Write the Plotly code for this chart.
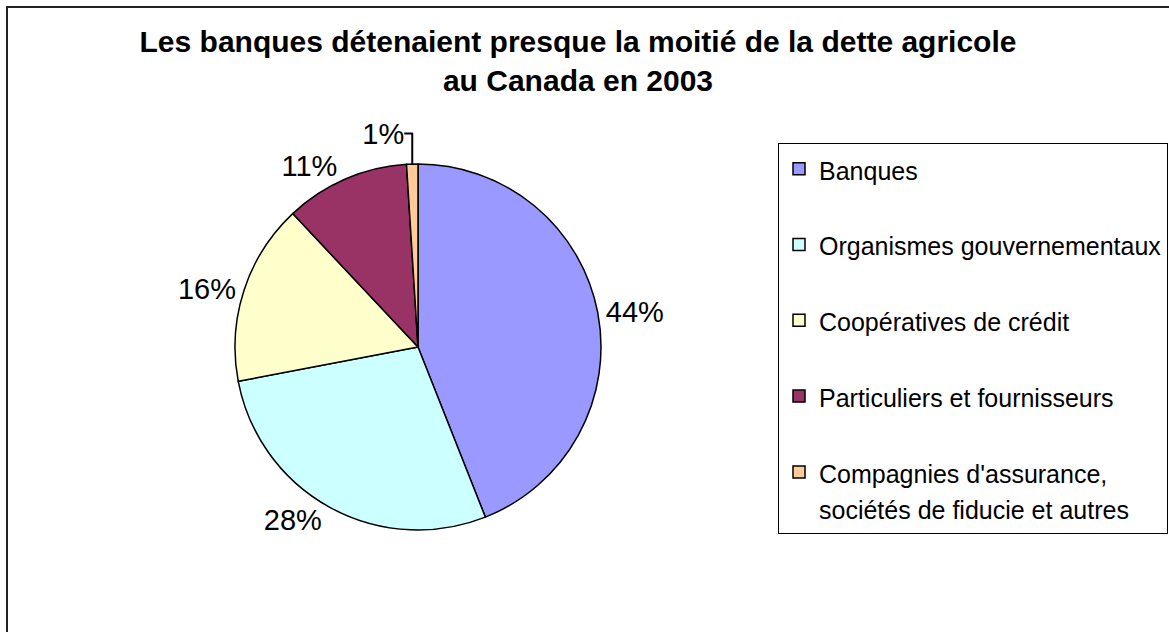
import plotly.graph_objects as go

categories = [
    "Banques",
    "Organismes gouvernementaux",
    "Coopératives de crédit",
    "Particuliers et fournisseurs",
    "Compagnies d'assurance,<br>sociétés de fiducie et autres",
]
shares = [44, 28, 16, 11, 1]
colors = ["#9999FF", "#CCFFFF", "#FFFFCC", "#993366", "#FFCC99"]
title_lines = ["Les banques détenaient presque la moitié de la dette agricole", "au Canada en 2003"]

W, H = 1169, 632
FONT = "Liberation Sans, Arial, sans-serif"


def legend_label(txt):
    if "<br>" in txt:
        parts = txt.split("<br>")
        return "<br>".join("<span style='font-size:25px'>%s</span>" % p for p in parts)
    return "<span style='font-size:25px'>%s</span><br> " % txt


cx, cy, r = 418, 347, 183

fig = go.Figure(
    go.Pie(
        labels=[legend_label(c) for c in categories],
        values=shares,
        sort=False,
        direction="clockwise",
        rotation=0,
        marker=dict(colors=colors, line=dict(color="black", width=1.5)),
        textinfo="percent",
        texttemplate="%{percent:.0%}",
        textposition="outside",
        outsidetextfont=dict(family=FONT, size=29, color="black"),
        domain=dict(x=[(cx - r) / W, (cx + r) / W], y=[1 - (cy + r) / H, 1 - (cy - r) / H]),
        hoverinfo="label+percent",
    )
)

fig.update_layout(
    width=W,
    height=H,
    margin=dict(l=0, r=0, t=0, b=0),
    paper_bgcolor="white",
    plot_bgcolor="white",
    font=dict(family=FONT, color="black"),
    title=dict(
        text="<b>" + "<br>".join(title_lines) + "</b>",
        x=578 / W,
        xanchor="center",
        y=1 - 52 / H,
        yanchor="top",
        font=dict(size=30, color="black", family=FONT),
    ),
    showlegend=True,
    legend=dict(
        x=778 / W,
        xanchor="left",
        y=1 - 143 / H,
        yanchor="top",
        bgcolor="white",
        bordercolor="black",
        borderwidth=1,
        font=dict(size=28, color="black", family=FONT),
        valign="top",
        traceorder="normal",
    ),
    shapes=[
        dict(
            type="rect",
            xref="paper",
            yref="paper",
            x0=7 / W,
            x1=1.05,
            y0=-0.05,
            y1=1 - 7 / H,
            line=dict(color="#222222", width=2),
            fillcolor="rgba(0,0,0,0)",
            layer="below",
        )
    ],
)

fig.write_html(
    "out.html",
    config={"displayModeBar": False},
    post_script="document.body.style.margin='0px';",
)
